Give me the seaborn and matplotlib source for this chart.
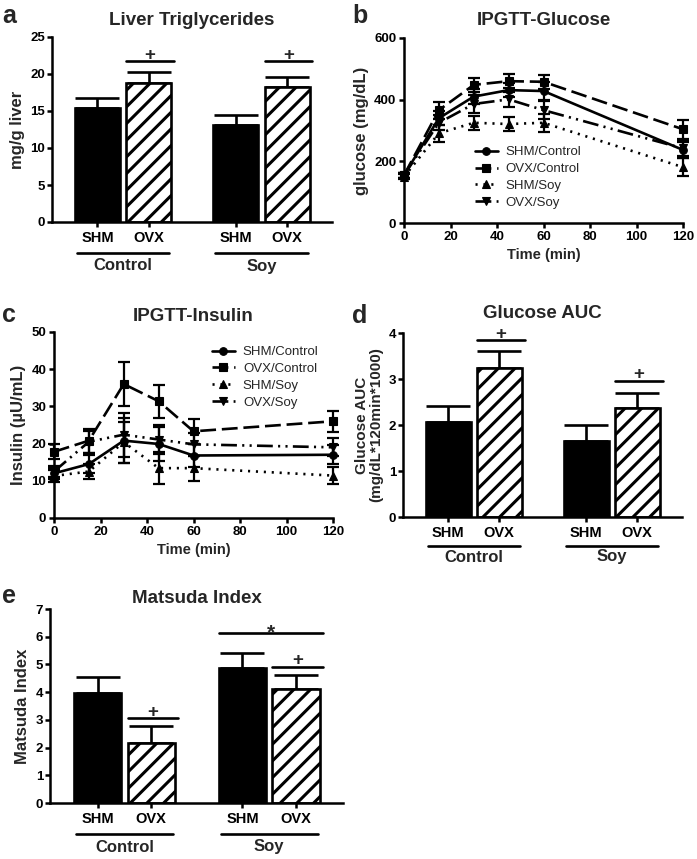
import numpy as np
import pandas as pd
import matplotlib
matplotlib.use("Agg")
import matplotlib.pyplot as plt
import matplotlib.transforms as mtransforms
from matplotlib.lines import Line2D
import seaborn as sns

sns.set_style("ticks")
plt.rcParams["font.family"] = ["Liberation Sans", "DejaVu Sans"]
plt.rcParams["hatch.linewidth"] = 2.2
plt.rcParams["axes.linewidth"] = 1.8
plt.rcParams["axes.edgecolor"] = "black"
plt.rcParams["xtick.major.width"] = 1.8
plt.rcParams["ytick.major.width"] = 1.8
plt.rcParams["xtick.major.size"] = 3.5
plt.rcParams["ytick.major.size"] = 3.5
plt.rcParams["xtick.color"] = "black"
plt.rcParams["ytick.color"] = "black"

# ---- bar chart data (order: Control-SHM, Control-OVX, Soy-SHM, Soy-OVX)
diet = ["Control", "Control", "Soy", "Soy"]
surgery = ["SHM", "OVX", "SHM", "OVX"]

tg_mean = [15.4, 18.8, 13.1, 18.3]
tg_sem = [1.3, 1.5, 1.3, 1.3]
tg_plus = [21.7, 21.7]          # "+" bars over the OVX bars

auc_mean = [2.07, 3.25, 1.65, 2.37]
auc_sem = [0.34, 0.36, 0.34, 0.33]
auc_plus = [3.84, 2.96]

mat_mean = [3.98, 2.18, 4.86, 4.10]
mat_sem = [0.55, 0.60, 0.57, 0.52]
mat_plus = [3.05, 4.92]
mat_star = 6.13                 # "*" over both soy bars

# ---- IPGTT data
time_min = [0, 15, 30, 45, 60, 120]
group_names = ["SHM/Control", "OVX/Control", "SHM/Soy", "OVX/Soy"]

glu_shm_ctrl = [155, 340, 410, 431, 428, 237]
glu_ovx_ctrl = [155, 366, 448, 460, 458, 304]
glu_shm_soy = [150, 291, 325, 321, 325, 181]
glu_ovx_soy = [155, 325, 386, 401, 366, 242]
glu_shm_ctrl_sem = [8, 22, 25, 22, 30, 25]
glu_ovx_ctrl_sem = [8, 28, 22, 23, 22, 30]
glu_shm_soy_sem = [8, 27, 23, 22, 29, 30]
glu_ovx_soy_sem = [8, 25, 30, 25, 30, 25]

ins_shm_ctrl = [12.0, 14.5, 20.8, 19.9, 16.8, 17.0]
ins_ovx_ctrl = [17.8, 20.8, 36.0, 31.4, 23.3, 26.0]
ins_shm_soy = [11.3, 12.5, 20.4, 13.4, 13.4, 11.4]
ins_ovx_soy = [12.5, 20.5, 22.4, 21.1, 19.8, 19.0]
ins_shm_ctrl_sem = [1.5, 2.5, 6.1, 4.5, 3.0, 2.5]
ins_ovx_ctrl_sem = [2.0, 3.2, 6.0, 4.4, 3.4, 2.8]
ins_shm_soy_sem = [1.5, 2.0, 5.5, 4.3, 3.4, 2.3]
ins_ovx_soy_sem = [1.5, 3.0, 5.9, 4.0, 3.0, 2.4]

line_styles = ["-", (0, (6, 2.2)), (0, (0.8, 2.2)), (0, (6, 2, 0.8, 2, 0.8, 2))]
markers = ["o", "s", "^", "v"]
marker_sizes = [5.5, 5.5, 5.5, 5.5]

W, H = 697, 859
fig = plt.figure(figsize=(W / 100, H / 100), dpi=100)


def make_ax(left, right, top, bottom):
    return fig.add_axes([left / W, 1 - bottom / H, (right - left) / W, (bottom - top) / H])


def below(ax, px):
    # x in data units, y shifted px pixels below the x-axis
    return ax.get_xaxis_transform() + mtransforms.ScaledTranslation(0, -px / 100, fig.dpi_scale_trans)


def bar_panel(ax, means, sems, ylim, yticks, ylabel, title, tpad, offs):
    df = pd.DataFrame({"diet": diet, "surgery": surgery, "value": means})
    sns.barplot(data=df, x="diet", y="value", hue="surgery", hue_order=["SHM", "OVX"],
                palette={"SHM": "black", "OVX": "white"}, width=0.74, gap=0.12,
                edgecolor="black", linewidth=1.9, errorbar=None, legend=False, ax=ax)
    bars = sorted([p for p in ax.patches if p.get_height() > 0], key=lambda p: p.get_x())
    centers = [p.get_x() + p.get_width() / 2 for p in bars]
    for p in bars:
        p.set_zorder(2)
        if p.get_facecolor()[0] > 0.5:
            p.set_hatch("//")
    ax.errorbar(centers, means, yerr=[np.zeros(len(means)), sems], fmt="none",
                ecolor="black", elinewidth=1.9, capsize=16, capthick=1.9, zorder=1)
    ax.set_xlim(-0.513, 1.509)
    ax.set_ylim(*ylim)
    ax.set_yticks(yticks)
    ax.set_xticks(centers, surgery)
    ax.tick_params(axis="x", labelsize=10.5, pad=3)
    ax.tick_params(axis="y", labelsize=9.5, pad=1.5)
    for lab in ax.get_xticklabels() + ax.get_yticklabels():
        lab.set_fontweight("bold")
    ax.set_xlabel("")
    ax.set_ylabel(ylabel, fontsize=12, fontweight="bold", labelpad=4)
    ax.set_title(title, fontsize=13.5, fontweight="bold", pad=tpad)
    sns.despine(ax=ax)
    for g, name in enumerate(["Control", "Soy"]):
        ax.add_line(Line2D([g - 0.335, g + 0.335], [0, 0], color="black", lw=1.9,
                           transform=below(ax, offs[0]), clip_on=False))
        ax.text(g, 0, name, transform=below(ax, offs[1]), ha="center", va="center",
                fontsize=12, fontweight="bold")
    return bars


def sig(ax, x0, x1, y, sym):
    ax.plot([x0, x1], [y, y], color="black", lw=1.9, clip_on=False)
    ax.annotate(sym, xy=((x0 + x1) / 2, y), xytext=(0, 1.2 if sym == "+" else -3.5),
                textcoords="offset points", ha="center", va="baseline",
                fontsize=13.5 if sym == "+" else 15, fontweight="bold")


def line_panel(ax, series, errs, ylim, yticks, ylabel, title, tpad, leg_anchor):
    for name, ys, es, ls, mk, ms in zip(group_names, series, errs, line_styles, markers, marker_sizes):
        ax.errorbar(time_min, ys, yerr=es, fmt="none", ecolor="black", elinewidth=1.6,
                    capsize=4, capthick=1.6, clip_on=False)
        sns.lineplot(x=time_min, y=ys, ax=ax, color="black", linestyle=ls, linewidth=1.9,
                     marker=mk, markersize=ms, markeredgecolor="black", markeredgewidth=0.8,
                     label=name, clip_on=False)
    ax.set_xlim(0, 120)
    ax.set_xticks([0, 20, 40, 60, 80, 100, 120])
    ax.set_ylim(*ylim)
    ax.set_yticks(yticks)
    ax.tick_params(axis="both", labelsize=9.5, pad=2)
    for lab in ax.get_xticklabels() + ax.get_yticklabels():
        lab.set_fontweight("bold")
    ax.set_xlabel("Time (min)", fontsize=10.5, fontweight="bold", labelpad=4)
    ax.set_ylabel(ylabel, fontsize=12, fontweight="bold", labelpad=4)
    ax.set_title(title, fontsize=13.5, fontweight="bold", pad=tpad)
    sns.despine(ax=ax)
    ax.legend(loc="upper left", bbox_to_anchor=leg_anchor, frameon=False, fontsize=9.5,
              handlelength=1.75, handletextpad=0.6, labelspacing=0.35,
              borderpad=0, borderaxespad=0)


# a: liver triglycerides
ax_a = make_ax(52, 332, 37, 222)
bars = bar_panel(ax_a, tg_mean, tg_sem, (0, 25), [0, 5, 10, 15, 20, 25],
                 "mg/g liver", "Liver Triglycerides", 8.6, (31, 44))
for b, y in zip([bars[1], bars[3]], tg_plus):
    sig(ax_a, b.get_x(), b.get_x() + b.get_width() + 0.02, y, "+")

# b: IPGTT glucose
ax_b = make_ax(404, 683, 38, 223)
line_panel(ax_b, [glu_shm_ctrl, glu_ovx_ctrl, glu_shm_soy, glu_ovx_soy],
           [glu_shm_ctrl_sem, glu_ovx_ctrl_sem, glu_shm_soy_sem, glu_ovx_soy_sem],
           (0, 600), [0, 200, 400, 600], "glucose (mg/dL)", "IPGTT-Glucose", 9.4,
           (0.254, 0.416))

# c: IPGTT insulin
ax_c = make_ax(54, 333, 332, 518)
line_panel(ax_c, [ins_shm_ctrl, ins_ovx_ctrl, ins_shm_soy, ins_ovx_soy],
           [ins_shm_ctrl_sem, ins_ovx_ctrl_sem, ins_shm_soy_sem, ins_ovx_soy_sem],
           (0, 50), [0, 10, 20, 30, 40, 50], "Insulin (\u00b5U/mL)", "IPGTT-Insulin", 8,
           (0.566, 0.925))

# d: glucose AUC
ax_d = make_ax(403, 682, 333, 517)
bars = bar_panel(ax_d, auc_mean, auc_sem, (0, 4), [0, 1, 2, 3, 4],
                 "Glucose AUC\n(mg/dL*120min*1000)", "Glucose AUC", 10.8, (29, 40))
ax_d.yaxis.label.set_fontsize(11)
ax_d.yaxis.label.set_linespacing(1.0)
for b, y in zip([bars[1], bars[3]], auc_plus):
    sig(ax_d, b.get_x(), b.get_x() + b.get_width() + 0.02, y, "+")

# e: Matsuda index
ax_e = make_ax(50, 343, 609, 803)
bars = bar_panel(ax_e, mat_mean, mat_sem, (0, 7), list(range(8)),
                 "Matsuda Index", "Matsuda Index", 4.3, (31, 44))
for b, y in zip([bars[1], bars[3]], mat_plus):
    sig(ax_e, b.get_x(), b.get_x() + b.get_width() + 0.02, y, "+")
sig(ax_e, bars[2].get_x(), bars[3].get_x() + bars[3].get_width() + 0.02, mat_star, "*")

# panel letters
for letter, x, yb in [("a", 2, 23), ("b", 352, 23), ("c", 2, 322), ("d", 352, 323), ("e", 2, 603)]:
    fig.text(x / W, 1 - yb / H, letter, fontsize=18, fontweight="bold", va="baseline", ha="left")

fig.savefig("out.png", dpi=100)
